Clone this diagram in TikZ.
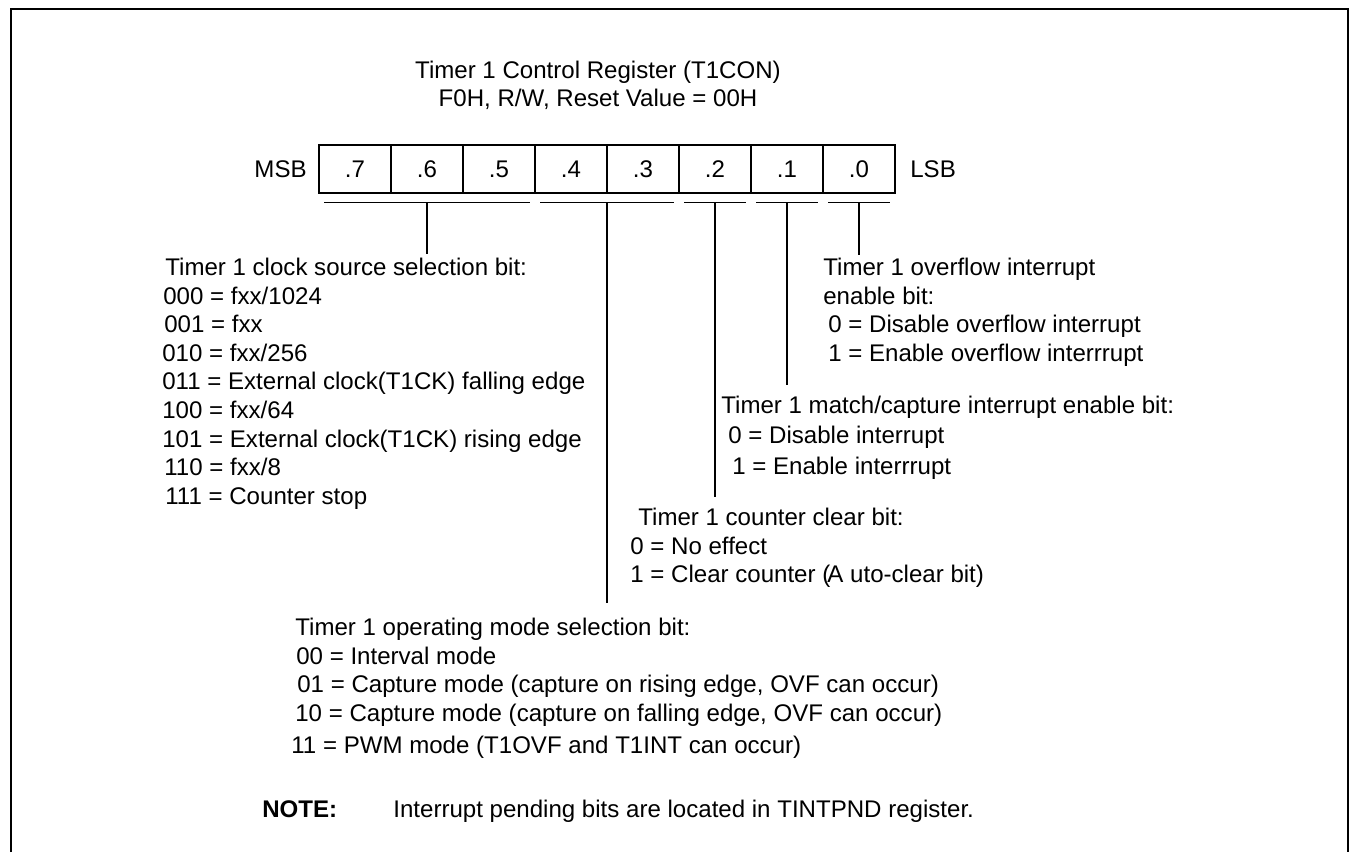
\documentclass[tikz,border=0pt]{standalone}
\usepackage{fontspec}
\setmainfont{Liberation Sans}
\usepackage{tikz}
\usetikzlibrary{calc}
\usepackage{xcolor}

\begin{document}
\begin{tikzpicture}[x=0.02cm, y=-0.02cm,
  txt/.style={inner sep=0pt, font=\fontsize{13.7}{16.3}\selectfont},
  blocktxt/.style={txt, align=left, anchor=north west},
  bitcell/.style={draw, line width=0.7pt, minimum width=1.44cm, minimum height=0.96cm,
    inner sep=0pt, font=\fontsize{13.7}{16.3}\selectfont},
  groupbar/.style={line width=0.7pt},
  lead/.style={line width=0.7pt},
  outline/.style={line width=1.1pt}
]
  \useasboundingbox (0,0) rectangle (1352,852);
  \draw[outline] (11,852) |- (1348,9) -- (1348,852);

  % title
  \node[txt, anchor=base] (title) at (598,78) {Timer 1 Control Register (T1CON)};
  \node[txt, anchor=base] (addr) at (598,106) {F0H, R/W, Reset Value = 00H};

  % register bits
  \node[bitcell] (b7) at (355,169) {.7};
  \node[bitcell] (b6) at (427,169) {.6};
  \node[bitcell] (b5) at (499,169) {.5};
  \node[bitcell] (b4) at (571,169) {.4};
  \node[bitcell] (b3) at (643,169) {.3};
  \node[bitcell] (b2) at (715,169) {.2};
  \node[bitcell] (b1) at (787,169) {.1};
  \node[bitcell] (b0) at (859,169) {.0};
  \node[txt, anchor=base east] (msb) at (307,177) {MSB};
  \node[txt, anchor=base west] (lsb) at (910,177) {LSB};

  % bit groups
  \draw[groupbar] ([shift={(6,9)}]b7.south west) -- ([shift={(-6,9)}]b5.south east);
  \draw[groupbar] ([shift={(6,9)}]b4.south west) -- ([shift={(-6,9)}]b3.south east);
  \draw[groupbar] ([shift={(6,9)}]b2.south west) -- ([shift={(-6,9)}]b2.south east);
  \draw[groupbar] ([shift={(6,9)}]b1.south west) -- ([shift={(-6,9)}]b1.south east);
  \draw[groupbar] ([shift={(6,9)}]b0.south west) -- ([shift={(-6,9)}]b0.south east);
  \coordinate (gA) at ($(b7.south west)!.5!(b5.south east) + (0,9)$);
  \coordinate (gB) at ($(b4.south west)!.5!(b3.south east) + (0,9)$);
  \coordinate (gC) at ($(b2.south) + (0,9)$);
  \coordinate (gD) at ($(b1.south) + (0,9)$);
  \coordinate (gE) at ($(b0.south) + (0,9)$);

  % descriptions
  \node[blocktxt] (clk) at (162,257.6) {\hspace*{0.06cm}Timer 1 clock source selection bit:\\
    \hspace*{0.02cm}000 = fxx/1024\\
    \hspace*{0.04cm}001 = fxx\\
    010 = fxx/256\\
    011 = External clock(T1CK) falling edge\\
    100 = fxx/64\\
    101 = External clock(T1CK) rising edge\\
    \hspace*{0.04cm}110 = fxx/8\\
    \hspace*{0.06cm}111 = Counter stop};
  \node[blocktxt] (ovf) at (823,257.6) {Timer 1 overflow interrupt\\
    enable bit:\\
    \hspace*{0.1cm}0 = Disable overflow interrupt\\
    \hspace*{0.1cm}1 = Enable overflow interrrupt};
  \node[blocktxt] (mat) at (721,395.6) {Timer 1 match/capture interrupt enable bit:\\[1pt]
    \hspace*{0.14cm}0 = Disable interrupt\\[1pt]
    \hspace*{0.22cm}1 = Enable interrrupt};
  \node[blocktxt] (clr) at (630,507.6) {\hspace*{0.16cm}Timer 1 counter clear bit:\\
    0 = No effect\\
    1 = Clear counter (\kern-0.12em A uto-clear bit)};
  \node[blocktxt] (mode) at (291,617.6) {\hspace*{0.08cm}Timer 1 operating mode selection bit:\\
    \hspace*{0.1cm}00 = Interval mode\\
    \hspace*{0.12cm}01 = Capture mode (capture on rising edge, OVF can occur)\\
    \hspace*{0.08cm}10 = Capture mode (capture on falling edge, OVF can occur)\\[2pt]
    11 = PWM mode (T1OVF and T1INT can occur)};

  \draw[lead, shorten >=0.08cm] (gA) -- (gA |- clk.north);
  \draw[lead, shorten >=0.3cm] (gB) -- (gB |- mode.north);
  \draw[lead, shorten >=0.22cm] (gC) -- (gC |- clr.north);
  \draw[lead, shorten >=0.22cm] (gD) -- (gD |- mat.north);
  \draw[lead, shorten >=0.06cm] (gE) -- (gE |- ovf.north);

  % note
  \node[txt, anchor=base west, font=\fontsize{13.7}{16.3}\selectfont\bfseries] (notelbl) at (262,817) {NOTE:};
  \node[txt, anchor=base west] (notetxt) at (393,817) {Interrupt pending bits are located in TINTPND register.};
\end{tikzpicture}
\end{document}
